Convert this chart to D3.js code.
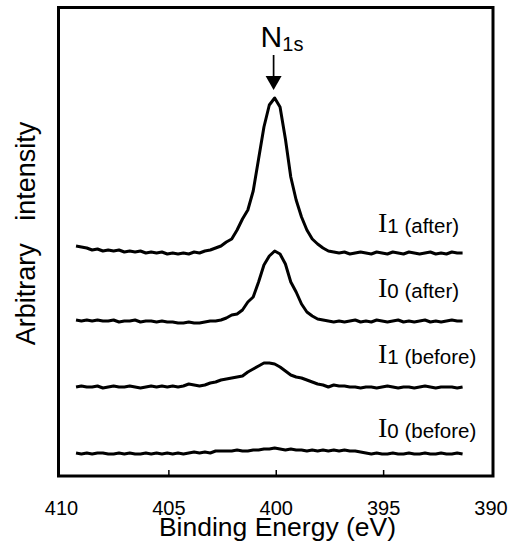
<!DOCTYPE html>
<html>
<head>
<meta charset="utf-8">
<script src="https://cdn.jsdelivr.net/npm/d3@7"></script>
<style>
  body { margin: 0; background: #fff; }
  text { font-family: "Liberation Sans", Arial, sans-serif; fill: #000; }
</style>
</head>
<body>
<div id="chart"></div>
<script>
// binding energy grid (eV), shared by all spectra
const energy = [
  409.3, 409.05, 408.8, 408.55, 408.3, 408.05, 407.8, 407.55, 407.3, 407.05,
  406.8, 406.55, 406.3, 406.05, 405.8, 405.55, 405.3, 405.05, 404.8, 404.55,
  404.3, 404.05, 403.8, 403.55, 403.3, 403.05, 402.8, 402.55, 402.3, 402.05,
  401.8, 401.55, 401.3, 401.05, 400.8, 400.55, 400.3, 400.05, 399.8, 399.55,
  399.3, 399.05, 398.8, 398.55, 398.3, 398.05, 397.8, 397.55, 397.3, 397.05,
  396.8, 396.55, 396.3, 396.05, 395.8, 395.55, 395.3, 395.05, 394.8, 394.55,
  394.3, 394.05, 393.8, 393.55, 393.3, 393.05, 392.8, 392.55, 392.3, 392.05,
  391.8, 391.55, 391.3
];

// spectra, intensity above each curve's own baseline (arb. units)
const i1After = [
  7, 6, 5, 3, 4, 2, 3, 2, 3, 1,
  2, 1, 2, 0, 1, 0, 1, -1, 0, -1,
  0, -1, 1, 0, 2, 3, 5, 7, 11, 14,
  23, 34, 43, 62, 94, 126, 148, 155, 146, 114,
  76, 53, 36, 23, 14, 9, 5, 2, 1, 0,
  1, -1, 0, 1, 0, -1, 1, 0, -1, 1,
  0, -1, 1, 0, -1, 0, 1, -1, 0, -1,
  1, 0, 0
];
const i0After = [
  2, 1, 2, 1, 2, 1, 1, 2, 0, 1,
  1, 2, 0, 1, 1, 0, 1, 0, 0, -1,
  -1, 0, -1, -1, 0, 1, 1, 2, 4, 7,
  8, 12, 20, 25, 40, 57, 66, 71, 68, 58,
  40, 30, 18, 10, 6, 3, 2, 1, 0, 1,
  0, 1, 2, 0, 1, 0, 2, 1, 0, 1,
  2, 0, 1, 0, 1, 2, 0, 1, 0, 1,
  2, 1, 1
];
const i1Before = [
  0, 1, 0, 0, 1, -1, 0, 1, 0, 0,
  1, 0, -1, 0, 1, 0, 1, 0, 1, 0,
  1, 3, 2, 1, 2, 4, 5, 7, 8, 9,
  10, 11, 15, 18, 21, 24, 24, 23, 20, 16,
  12, 10, 9, 7, 5, 3, 2, 0, 2, 1,
  1, 0, 0, -1, 0, 0, -1, 0, 1, 0,
  -1, 0, 0, -1, 0, 1, 0, -1, 0, 0,
  0, -1, 0
];
const i0Before = [
  1, 0, 1, 0, 1, 1, 0, 0, 1, 0,
  1, 0, 0, 1, 0, 1, 0, 1, 0, 1,
  0, 1, 2, 1, 2, 1, 3, 3, 3, 3,
  4, 3, 3, 4, 4, 5, 5, 6, 5, 4,
  5, 4, 4, 3, 4, 3, 4, 3, 4, 3,
  4, 3, 3, 2, 1, 0, 1, 0, 0, 1,
  0, 0, 1, 0, 0, 1, 0, 0, 1, 0,
  0, 1, 0
];

// vertical stacking offsets, top curve first
const spectra = [i1After, i0After, i1Before, i0Before];
const offsets = [223, 154, 89, 22];
const labelSubs = ["1 (after)", "0 (after)", "1 (before)", "0 (before)"];

const xTicks = [410, 405, 400, 395, 390];
const peakEnergy = 400.1;

const W = 520, H = 545;
const box = {left: 58.5, right: 493, top: 7.5, bottom: 476};

const svg = d3.select("#chart").append("svg")
    .attr("width", W)
    .attr("height", H);

const x = d3.scaleLinear().domain([410, 390]).range([61, 490.5]);
const y = d3.scaleLinear().domain([0, 469]).range([476, 7]);

// frame
svg.append("rect")
    .attr("x", box.left)
    .attr("y", box.top)
    .attr("width", box.right - box.left)
    .attr("height", box.bottom - box.top)
    .attr("fill", "none")
    .attr("stroke", "#000")
    .attr("stroke-width", 3);

// x axis, ticks pointing inward
const xAxis = svg.append("g")
    .attr("transform", "translate(0," + box.bottom + ")")
    .call(d3.axisBottom(x).tickValues(xTicks).tickSize(-6).tickPadding(24.5));
xAxis.select(".domain").remove();
xAxis.selectAll(".tick line")
    .attr("stroke", "#000")
    .attr("stroke-width", 1.5)
    .attr("display", d => (d === 410 || d === 390) ? "none" : null);
xAxis.selectAll(".tick text")
    .attr("font-family", "Liberation Sans, Arial, sans-serif")
    .attr("font-size", 20)
    .attr("fill", "#000");

svg.append("text")
    .attr("x", 277.5)
    .attr("y", 536)
    .attr("text-anchor", "middle")
    .attr("font-size", 26.5)
    .text("Binding Energy (eV)");

svg.append("text")
    .attr("transform", "translate(35,233.5) rotate(-90)")
    .attr("text-anchor", "middle")
    .attr("font-size", 27)
    .style("white-space", "pre")
    .text("Arbitrary   intensity");

// spectra
const line = d3.line()
    .x((d, i) => x(energy[i]));

spectra.forEach(function(s, k) {
    svg.append("path")
        .datum(s)
        .attr("fill", "none")
        .attr("stroke", "#000")
        .attr("stroke-width", 3)
        .attr("stroke-linejoin", "round")
        .attr("d", line.y(d => y(offsets[k] + d)));
});

// curve labels
const labelY = [232, 296.5, 363, 436.5];
labelSubs.forEach(function(sub, k) {
    const t = svg.append("text")
        .attr("x", 378)
        .attr("y", labelY[k]);
    t.append("tspan")
        .attr("font-family", "Liberation Serif, Times New Roman, serif")
        .attr("font-size", 28)
        .text("I");
    t.append("tspan")
        .attr("font-size", 20.5)
        .attr("dy", 1)
        .text(sub);
});

// N1s marker
const nx = x(peakEnergy);
const nLabel = svg.append("text")
    .attr("x", nx - 13)
    .attr("y", 46.5);
nLabel.append("tspan").attr("font-size", 30).text("N");
nLabel.append("tspan").attr("font-size", 20).attr("dy", 4.5).text("1s");

svg.append("line")
    .attr("x1", nx).attr("x2", nx)
    .attr("y1", 55).attr("y2", 78)
    .attr("stroke", "#000")
    .attr("stroke-width", 1.7);
svg.append("path")
    .attr("d", "M" + (nx - 8) + ",76L" + (nx + 8) + ",76L" + nx + ",90Z")
    .attr("fill", "#000");
</script>
</body>
</html>
